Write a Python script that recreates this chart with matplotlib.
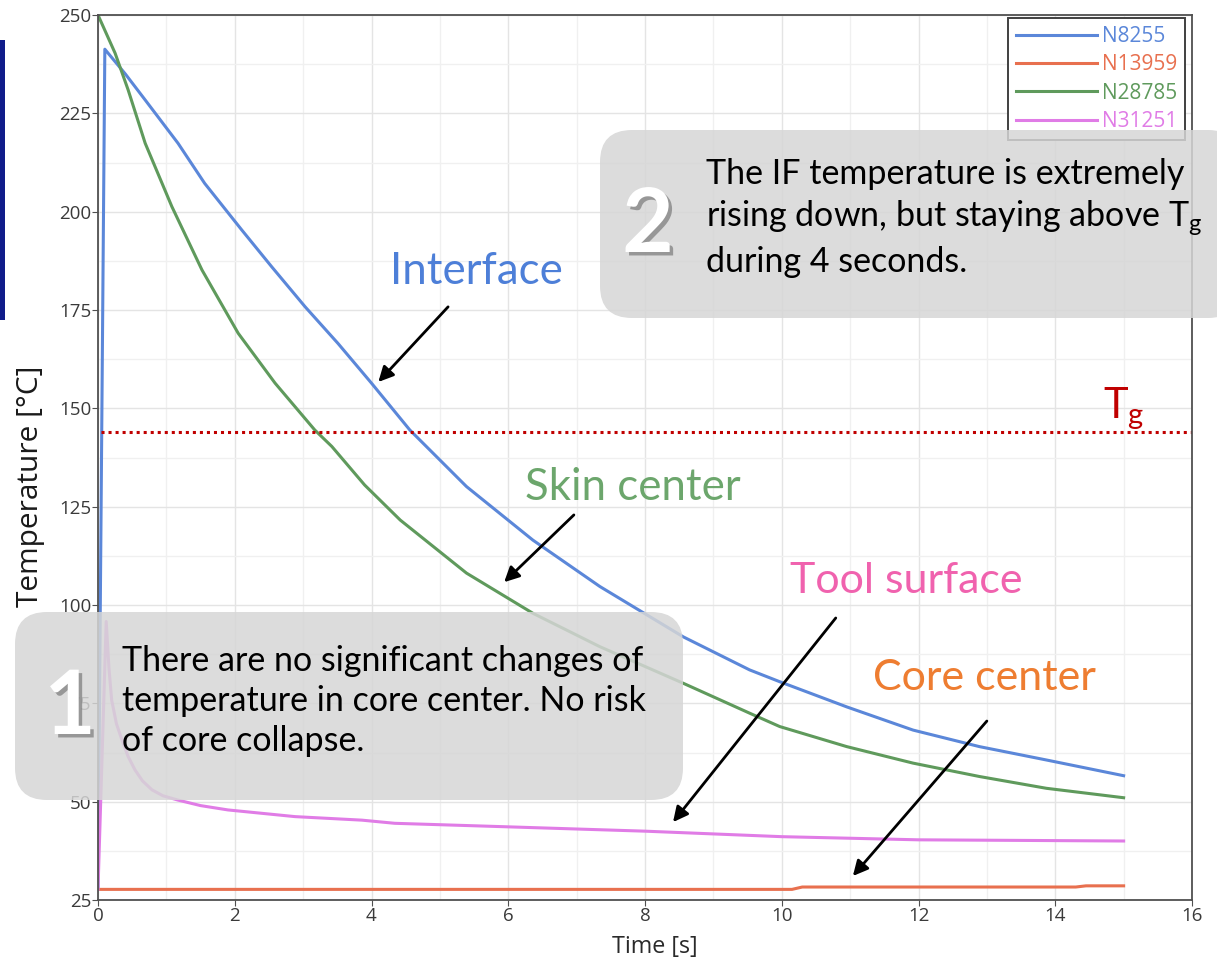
import matplotlib
matplotlib.use("Agg")
import matplotlib.pyplot as plt
from matplotlib.patches import FancyBboxPatch, Rectangle
from matplotlib.ticker import MultipleLocator
import matplotlib.patheffects as pe

# --- node temperature histories (time [s], temperature [°C]) ---
t_interface = [0.0, 0.10, 0.40, 0.69, 1.17, 1.56, 2.10, 2.54, 3.03, 3.51, 4.00, 4.56, 5.39,
               6.36, 7.34, 8.56, 9.53, 9.97, 10.95, 11.92, 12.89, 13.87, 15.0]
T_interface = [27.7, 241.3, 235.0, 228.4, 217.4, 207.2, 195.4, 186.0, 175.8, 166.5, 156.4, 144.5, 130.1,
               116.5, 104.7, 91.9, 83.5, 80.5, 74.1, 68.2, 64.0, 60.6, 56.6]

t_core = [0.0, 10.15, 10.3, 14.3, 14.45, 15.0]
T_core = [27.7, 27.7, 28.3, 28.3, 28.6, 28.6]

t_skin = [0.0, 0.25, 0.44, 0.69, 1.08, 1.52, 2.05, 2.59, 3.17, 3.42, 3.90, 4.42, 5.39,
          6.36, 7.34, 8.56, 9.53, 9.97, 10.95, 11.92, 12.89, 13.87, 15.0]
T_skin = [250.0, 240.3, 231.0, 217.4, 201.3, 185.2, 169.1, 156.4, 144.5, 140.3, 130.5, 121.6, 108.1,
          97.9, 89.4, 80.1, 72.5, 69.1, 64.0, 59.8, 56.4, 53.4, 51.0]

t_tool = [0.0, 0.12, 0.16, 0.20, 0.27, 0.35, 0.44, 0.54, 0.65, 0.79, 0.95, 1.17, 1.50, 1.90,
          2.88, 3.86, 4.34, 6.0, 8.0, 10.0, 12.0, 15.0]
T_tool = [27.7, 95.8, 84.0, 75.8, 69.8, 65.7, 61.5, 58.1, 55.3, 53.0, 51.5, 50.4, 49.0, 47.9,
          46.2, 45.3, 44.5, 43.6, 42.5, 41.1, 40.3, 40.0]

node_names = ["N8255", "N13959", "N28785", "N31251"]
node_colors = ["#5b87d9", "#e8704f", "#5f9a5c", "#e07ce6"]

T_glass = 144.0

W, H = 1217, 964
fig = plt.figure(figsize=(W / 100, H / 100), dpi=100)
fig.patch.set_facecolor("white")


def fx(x):
    return x / W


def fy(y):
    return 1 - y / H


ax = fig.add_axes([fx(98), fy(900), fx(1192) - fx(98), fy(15) - fy(900)])

series = [(t_interface, T_interface), (t_core, T_core), (t_skin, T_skin), (t_tool, T_tool)]
for (t, T), name, col in zip(series, node_names, node_colors):
    ax.plot(t, T, color=col, lw=2.2, label=name, solid_joinstyle="round")

ax.axhline(T_glass, xmin=0.003, xmax=1, color="#c00000", lw=2.2, ls=(0, (1, 1.3)))

ax.set_xlim(0, 16)
ax.set_ylim(25, 250)
ax.xaxis.set_major_locator(MultipleLocator(2))
ax.xaxis.set_minor_locator(MultipleLocator(1))
ax.yaxis.set_major_locator(MultipleLocator(25))
ax.yaxis.set_minor_locator(MultipleLocator(12.5))
ax.grid(which="major", color="#e4e4e4", lw=1.0)
ax.grid(which="minor", color="#f0f0f0", lw=1.0)
ax.set_axisbelow(True)

tick_font = "Open Sans"
ax.tick_params(which="major", direction="out", length=4, color="#505050",
               labelcolor="#3a3a3a", labelsize=13.5, pad=1)
ax.tick_params(which="minor", length=0)
for lab in ax.get_xticklabels() + ax.get_yticklabels():
    lab.set_family(tick_font)
for sp in ax.spines.values():
    sp.set_color("#505050")
    sp.set_linewidth(1.3)

ax.set_xlabel("Time [s]", family=tick_font, fontsize=16.8, color="#2a2a2a")
ax.set_ylabel("Temperature [°C]", family=tick_font, fontsize=21.5, color="#1a1a1a")
ax.xaxis.set_label_coords(0.509, -0.039)
ax.yaxis.set_label_coords(-0.048, 0.467)

leg = ax.legend(loc="upper right", bbox_to_anchor=(0.994, 0.997), borderaxespad=0,
                fancybox=False, edgecolor="#404040", framealpha=1, labelcolor="linecolor",
                handlelength=3.85, handletextpad=0.25, labelspacing=0.35, borderpad=0.4,
                prop={"family": tick_font, "size": 15})
leg.get_frame().set_linewidth(1.4)

# curve labels and arrows
note_font = "Lato"
ax.text(5.53, 184.7, "Interface", color="#4d7fd8", fontsize=31.5, family=note_font,
        ha="center", va="center")
ax.text(7.82, 130.0, "Skin center", color="#6ca66c", fontsize=31.5, family=note_font,
        ha="center", va="center")
ax.text(11.82, 106.1, "Tool surface", color="#f062ae", fontsize=31, family=note_font,
        ha="center", va="center")
ax.text(12.97, 81.4, "Core center", color="#ee7d31", fontsize=31, family=note_font,
        ha="center", va="center")
ax.text(15.0, 150.0, r"T$_{\mathregular{g}}$", color="#c00000", fontsize=30, family=note_font,
        ha="center", va="center")

arrows = [((5.12, 175.8), (4.10, 156.7)),
          ((6.96, 122.9), (5.94, 105.8)),
          ((10.79, 96.7), (8.41, 44.8)),
          ((13.0, 70.5), (11.04, 31.1))]
for tail, head in arrows:
    ax.annotate("", xy=head, xytext=tail,
                arrowprops=dict(arrowstyle="-|>,head_length=0.9,head_width=0.45",
                                color="black", lw=2.0, shrinkA=0, shrinkB=0))

# callout boxes drawn in figure inches
def callout(x, y, w, h):
    box = FancyBboxPatch((x / 100, (H - y - h) / 100), w / 100, h / 100,
                         boxstyle="round,pad=0,rounding_size=0.32",
                         transform=fig.dpi_scale_trans, facecolor="#d6d6d6",
                         edgecolor="none", alpha=0.85, zorder=5)
    fig.patches.append(box)


callout(15, 612, 668, 188)
callout(600, 130, 640, 188)

shadow = [pe.withSimplePatchShadow(offset=(2.5, -2.5), shadow_rgbFace="#7a7a7a", alpha=0.7)]
fig.text(fx(70), fy(708), "1", fontsize=64, weight="bold", color="white", family=note_font,
         ha="center", va="center", path_effects=shadow, zorder=6)
fig.text(fx(648), fy(226), "2", fontsize=64, weight="bold", color="white", family=note_font,
         ha="center", va="center", path_effects=shadow, zorder=6)

fig.text(fx(122), fy(701),
         "There are no significant changes of\ntemperature in core center. No risk\nof core collapse.",
         fontsize=24.5, family=note_font, color="black", ha="left", va="center",
         linespacing=1.32, zorder=6)
fig.text(fx(706), fy(218),
         "The IF temperature is extremely\nrising down, but staying above T$_{\\mathregular{g}}$\nduring 4 seconds.",
         fontsize=24.5, family=note_font, color="black", ha="left", va="center",
         linespacing=1.32, zorder=6)

# strip of the neighbouring slide image on the left edge
fig.patches.append(Rectangle((0, fy(320)), fx(5), fy(40) - fy(320), transform=fig.transFigure,
                             facecolor="#101c8a", edgecolor="none"))

fig.savefig("out.png", dpi=100)
